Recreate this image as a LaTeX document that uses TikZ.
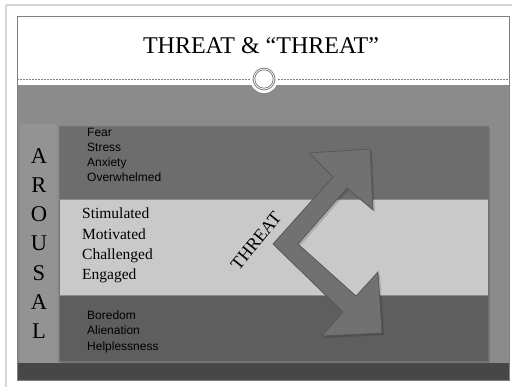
\documentclass[tikz,border=0pt]{standalone}
\usepackage{fontspec}
\setmainfont{Liberation Serif}
\setsansfont{Liberation Sans}
\begin{document}
\begin{tikzpicture}[x=1pt,y=-1pt,
  sanslbl/.style={anchor=west,font=\sffamily\fontsize{12}{12}\selectfont,text=black,inner sep=0pt,text height=0.7em,text depth=0.2em},
  seriflbl/.style={anchor=west,font=\fontsize{15.5}{15.5}\selectfont,text=black,inner sep=0pt,text height=0.7em,text depth=0.2em},
  arousal/.style={font=\fontsize{22.5}{22.5}\selectfont,text=black,inner sep=0pt,text height=0.66em,text depth=0em}]
\definecolor{frameln}{HTML}{D6D6D6}
\definecolor{slidegray}{HTML}{8B8B8B}
\definecolor{leftgray}{HTML}{939393}
\definecolor{topband}{HTML}{6D6D6D}
\definecolor{midband}{HTML}{C9C9C9}
\definecolor{botband}{HTML}{5E5E5E}
\definecolor{darkbar}{HTML}{474747}
\definecolor{arrowfill}{HTML}{717171}
\definecolor{arrowline}{HTML}{555555}
\useasboundingbox (0,0) rectangle (512,387);
\fill[white] (0,0) rectangle (512,387);
% outer frame
\draw[frameln,line width=2pt] (6,5) -- (512,5);
\draw[frameln,line width=2pt] (6,5) -- (6,387);
% slide
\fill[white] (17,16) rectangle (509,380);
\fill[slidegray] (17,85) rectangle (509,363);
\fill[leftgray] (20,124) rectangle (57,363);
\fill[darkbar] (17,363) rectangle (509,380);
\draw[gray,line width=0.8pt] (17,16) rectangle (509,380);
% dashed line and circle
\draw[gray,dash pattern=on 2pt off 1pt,line width=0.8pt] (17,79) -- (509,79);
\fill[white] (264,79) circle (14);
\draw[gray!90!black,line width=0.7pt] (264,79) circle (11);
\draw[gray!90!black,line width=0.7pt] (264,79) circle (9.2);
\node (title) at (261,46) {\fontsize{24}{24}\selectfont THREAT \& “THREAT”};
% panel
\fill[black,opacity=0.15] (61,128) rectangle (490,363);
\fill[topband] (59,126) rectangle (488,199);
\fill[midband] (59,199) rectangle (488,295);
\fill[botband] (59,295) rectangle (488,361);
\draw[black!55,line width=0.5pt] (59,126) rectangle (488,361);
\draw[black!45,line width=0.4pt] (59,199) -- (488,199) (59,295) -- (488,295);
% arousal column
\foreach \ch [count=\i from 0] in {A,R,O,U,S,A,L}{
  \node[arousal] (ar\i) at (39,{160+29.2*\i}) {\ch};
}
% top band text
\node[sanslbl] (fear) at (87,134.5) {Fear};
\node[sanslbl] (stress) at (87,149.5) {Stress};
\node[sanslbl] (anxiety) at (87,164.5) {Anxiety};
\node[sanslbl] (overw) at (87,179.5) {Overwhelmed};
% middle band text
\node[seriflbl] (stim) at (82,216.5) {Stimulated};
\node[seriflbl] (motiv) at (82,237) {Motivated};
\node[seriflbl] (chall) at (82,257.5) {Challenged};
\node[seriflbl] (engag) at (82,277.5) {Engaged};
% bottom band text
\node[sanslbl] (bored) at (87,317.5) {Boredom};
\node[sanslbl] (alien) at (87,332.5) {Alienation};
\node[sanslbl] (helpl) at (87,348.5) {Helplessness};
% zigzag double arrow
\fill[black,opacity=0.15,shift={(2,2)}] (370,149) -- (373,210) -- (347,188) -- (298,244) -- (356,296) -- (378,272) -- (382,333) -- (322,336) -- (343,312) -- (273,244) -- (333,177) -- (309,153) -- cycle;
\filldraw[fill=arrowfill,draw=arrowline,line width=0.7pt,line join=miter]
  (370,149) -- (373,210) -- (347,188) -- (298,244) -- (356,296) -- (378,272) -- (382,333) -- (322,336) -- (343,312) -- (273,244) -- (333,177) -- (309,153) -- cycle;
\node[rotate=51,font=\fontsize{18}{18}\selectfont,inner sep=0pt] (threat) at (256,241) {THREAT};
\end{tikzpicture}
\end{document}
